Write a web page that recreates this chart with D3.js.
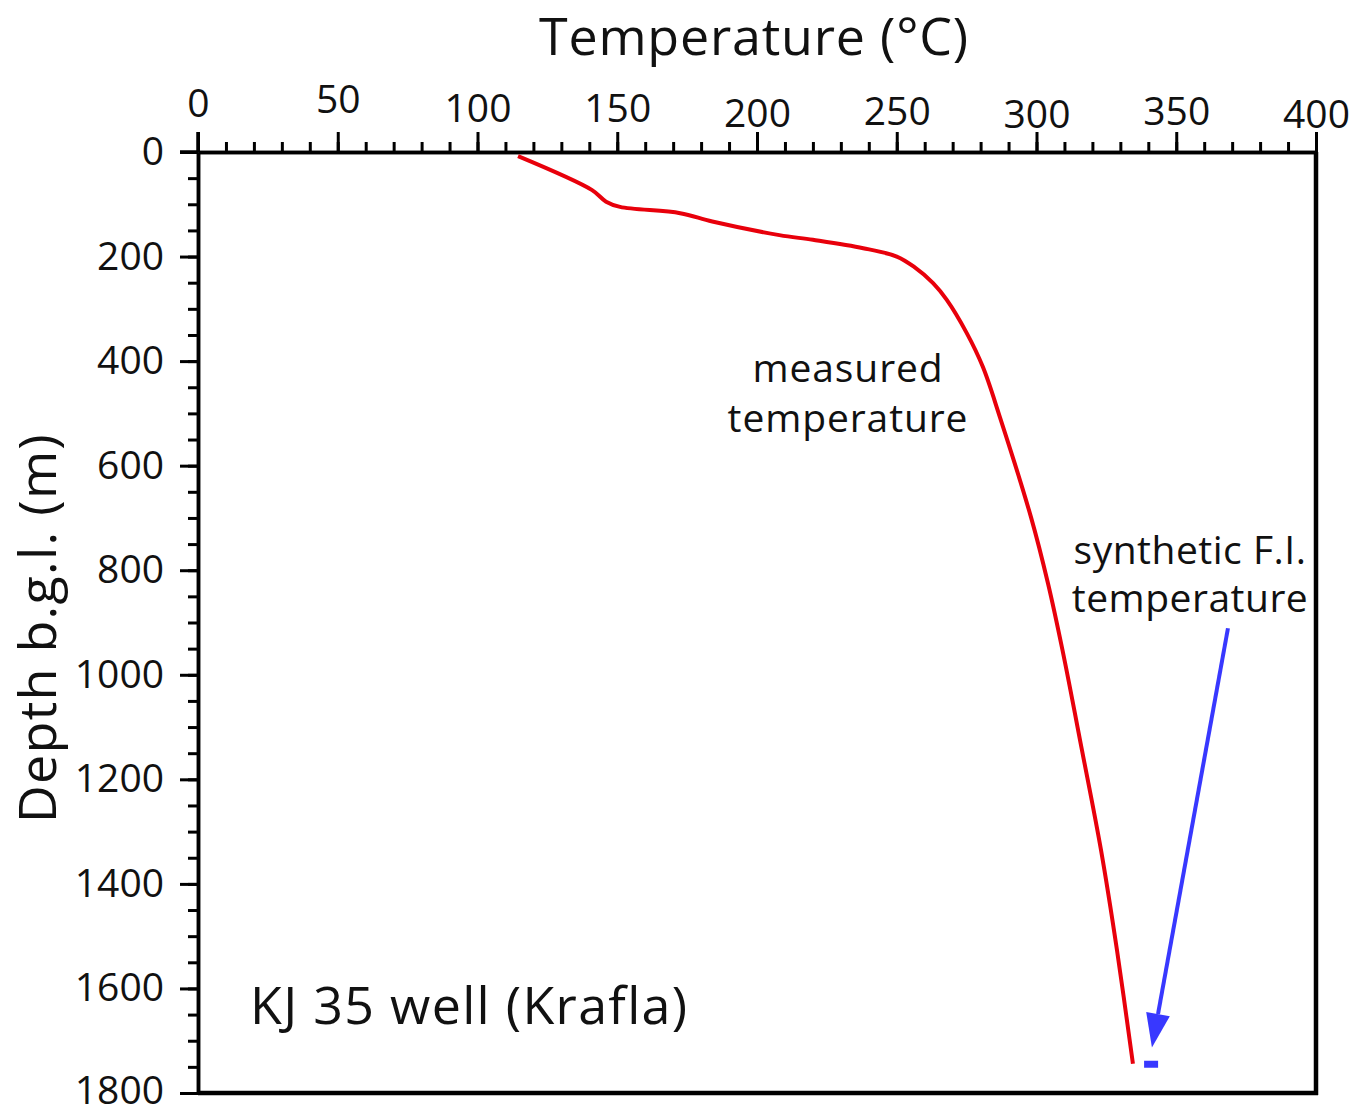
<!DOCTYPE html>
<html lang='en'>
<head>
	<meta charset='UTF-8'>
	<title>KJ 35 well</title>
	<style>
		body { margin: 0; background: #fff; }
		text { font-family: 'Open Sans', sans-serif; fill: #111; }
	</style>
</head>
<body>

<svg></svg>

<script src='https://d3js.org/d3.v7.min.js'></script>
<script>
// measured temperature log
const depth = [8, 73, 95, 105, 117, 133, 159, 168, 184, 200, 219, 251, 283, 346, 411, 507, 698, 825, 953, 1145, 1336, 1527, 1744]
const temp = [114.5, 141, 146, 151, 172.5, 184, 208, 220, 238, 250, 256, 263, 267.9, 275, 280.8, 286.9, 298, 304.1, 309.3, 316.3, 323.1, 328.8, 334.5]

// synthetic fluid inclusion temperature
const fiTemp = [341]
const fiDepth = [1745]

const xTicks = [0, 50, 100, 150, 200, 250, 300, 350, 400]
const yTicks = [0, 200, 400, 600, 800, 1000, 1200, 1400, 1600, 1800]

// the top labels sit a bit unevenly in the original
const xLabelDy = [-35, -39, -30, -30, -25, -27, -24, -27, -24]

const width = 1362
const height = 1108

const svg = d3.select('svg')
	.attr('width', width)
	.attr('height', height)

const x = d3.scaleLinear().domain([0, 400]).range([198, 1316])
const y = d3.scaleLinear().domain([0, 1800]).range([152, 1093])

// frame, right and bottom
svg.append('line')
	.attr('x1', x(400)).attr('x2', x(400))
	.attr('y1', y(0)).attr('y2', y(1800) + 2)
	.attr('stroke', '#000').attr('stroke-width', 4.5)
svg.append('line')
	.attr('x1', x(0)).attr('x2', x(400) + 2)
	.attr('y1', y(1800)).attr('y2', y(1800))
	.attr('stroke', '#000').attr('stroke-width', 4.5)

// top axis: minor every 10, major every 50
svg.append('g')
	.attr('transform', `translate(0,${y(0)})`)
	.call(d3.axisTop(x).tickValues(d3.range(0, 401, 10)).tickSize(10).tickFormat('').tickSizeOuter(0))
const xMajor = svg.append('g')
	.attr('transform', `translate(0,${y(0)})`)
	.call(d3.axisTop(x).tickValues(xTicks).tickSize(20).tickSizeOuter(0))
xMajor.selectAll('text')
	.attr('y', (d, i) => xLabelDy[i])
	.attr('dy', 0)

// left axis: minor every 50, major every 200
svg.append('g')
	.attr('transform', `translate(${x(0)},0)`)
	.call(d3.axisLeft(y).tickValues(d3.range(0, 1801, 50)).tickSize(10).tickFormat('').tickSizeOuter(0))
const yMajor = svg.append('g')
	.attr('transform', `translate(${x(0)},0)`)
	.call(d3.axisLeft(y).tickValues(yTicks).tickSize(18).tickSizeOuter(0).tickFormat(d3.format('d')))
yMajor.selectAll('text')
	.attr('x', -34)
	.attr('y', d => d === 1800 ? -2 : 0)

svg.selectAll('.domain').attr('stroke-width', 3.5)
svg.selectAll('.tick line').attr('stroke-width', 3)
svg.selectAll('.tick text')
	.attr('font-size', 39)
	.attr('font-family', "'Open Sans', sans-serif")
	.attr('fill', '#111')

// the 0 tick of each axis pokes past the corner
svg.append('line')
	.attr('x1', x(0) - 18).attr('x2', x(0))
	.attr('y1', y(0)).attr('y2', y(0))
	.attr('stroke', '#000').attr('stroke-width', 3.5)
svg.append('line')
	.attr('x1', x(0)).attr('x2', x(0))
	.attr('y1', y(0) - 20).attr('y2', y(0))
	.attr('stroke', '#000').attr('stroke-width', 3.5)

// measured curve
const line = d3.line()
	.x(i => x(temp[i]))
	.y(i => y(depth[i]))
	.curve(d3.curveCatmullRom.alpha(0.5))

svg.append('path')
	.attr('d', line(d3.range(depth.length)))
	.attr('fill', 'none')
	.attr('stroke', '#e8000b')
	.attr('stroke-width', 4)

// synthetic F.I. mark
svg.selectAll('rect.fi')
	.data(fiTemp)
	.enter().append('rect')
	.attr('class', 'fi')
	.attr('x', d => x(d) - 7)
	.attr('y', (d, i) => y(fiDepth[i]) - 3.5)
	.attr('width', 14)
	.attr('height', 7)
	.attr('fill', '#3838ff')

// arrow to the F.I. mark
const a0 = [x(368.5), y(911)]
const tip = [x(341.3), y(1713)]
const ang = Math.atan2(tip[1] - a0[1], tip[0] - a0[0])
const headLen = 34, headHalf = 12
const base = [tip[0] - headLen * Math.cos(ang), tip[1] - headLen * Math.sin(ang)]
svg.append('line')
	.attr('x1', a0[0]).attr('y1', a0[1])
	.attr('x2', base[0]).attr('y2', base[1])
	.attr('stroke', '#3838ff').attr('stroke-width', 4)
svg.append('path')
	.attr('d', `M${tip}L${base[0] + headHalf * Math.sin(ang)},${base[1] - headHalf * Math.cos(ang)}L${base[0] - headHalf * Math.sin(ang)},${base[1] + headHalf * Math.cos(ang)}Z`)
	.attr('fill', '#3838ff')

// titles and notes
svg.append('text')
	.attr('x', 754).attr('y', 55)
	.attr('text-anchor', 'middle')
	.attr('font-size', 52)
	.attr('letter-spacing', 0.8)
	.text('Temperature (°C)')

svg.append('text')
	.attr('transform', `translate(56,628) rotate(-90)`)
	.attr('text-anchor', 'middle')
	.attr('font-size', 52)
	.attr('letter-spacing', 1.3)
	.text('Depth b.g.l. (m)')

svg.append('text')
	.attr('x', 250).attr('y', 1024)
	.attr('font-size', 52)
	.attr('letter-spacing', 1.3)
	.text('KJ 35 well (Krafla)')

const note1 = svg.append('text')
	.attr('text-anchor', 'middle')
	.attr('font-size', 39)
	.attr('letter-spacing', 0.9)
note1.append('tspan').attr('x', 848).attr('y', 382).text('measured')
note1.append('tspan').attr('x', 848).attr('y', 432).text('temperature')

const note2 = svg.append('text')
	.attr('text-anchor', 'middle')
	.attr('font-size', 39)
	.attr('letter-spacing', 0.5)
note2.append('tspan').attr('x', 1190).attr('y', 564).text('synthetic F.I.')
note2.append('tspan').attr('x', 1190).attr('y', 612).text('temperature')
</script>
</body>
</html>
